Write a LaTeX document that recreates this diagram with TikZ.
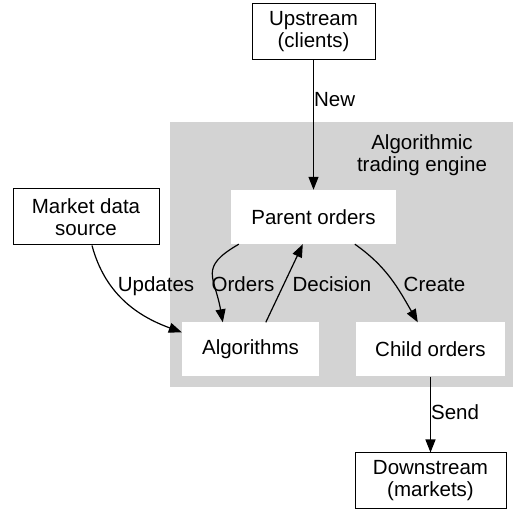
\documentclass[tikz,border=0pt]{standalone}
\usepackage{fontspec}
\setmainfont{Liberation Sans}
\usetikzlibrary{arrows.meta}
\definecolor{enginegray}{RGB}{211,211,211}
\begin{document}
\begin{tikzpicture}[x=1pt, y=1pt, >={Triangle[length=13pt,width=10pt]},
        every node/.style={font=\fontsize{20.5}{22}\selectfont, align=center, inner sep=0pt},
        endpoint/.style={draw, line width=1pt, minimum height=56pt},
        stage/.style={fill=white, minimum height=54pt},
        flow/.style={->, line width=1.2pt}]
        \useasboundingbox (0,0) rectangle (513,510);
        \fill[enginegray] (170,123) rectangle (513,388);
        \node (engine) at (422,355) {Algorithmic\\trading engine};
        \node[endpoint, minimum width=123pt] (up) at (313.5,478) {Upstream\\(clients)};
        \node[endpoint, minimum width=146pt] (mkt) at (86,293) {Market data\\source};
        \node[endpoint, minimum width=151pt] (down) at (430.5,29) {Downstream\\(markets)};
        \node[stage, minimum width=165pt] (par) at (313.5,293) {Parent orders};
        \node[stage, minimum width=137pt] (alg) at (250.5,160.5) {Algorithms};
        \node[stage, minimum width=149pt] (chi) at (430.5,160.5) {Child orders};
        \draw[flow] (up) -- (par) node[pos=0.354, anchor=base west] (new) {New};
        \draw[flow] (chi) -- (down) node[pos=0.571, anchor=base west] (send) {Send};
        \draw[flow] ([xshift=6pt]mkt.south) to[out=-75, in=160] ([yshift=-10pt]alg.north west);
        \draw[flow] ([xshift=8pt]par.south west) to[out=-150, in=100, looseness=1.5] ([xshift=41pt]alg.north west);
        \draw[flow] ([xshift=84pt]alg.north west) -- ([xshift=72pt]par.south west);
        \draw[flow] ([xshift=124pt]par.south west) to[out=-35, in=120] ([xshift=62pt]chi.north west);
        \node[anchor=base] (updates) at (156,218) {Updates};
        \node[anchor=base] (orders) at (243,218) {Orders};
        \node[anchor=base] (decision) at (332,218) {Decision};
        \node[anchor=base] (create) at (434.5,218) {Create};
    \end{tikzpicture}
\end{document}
